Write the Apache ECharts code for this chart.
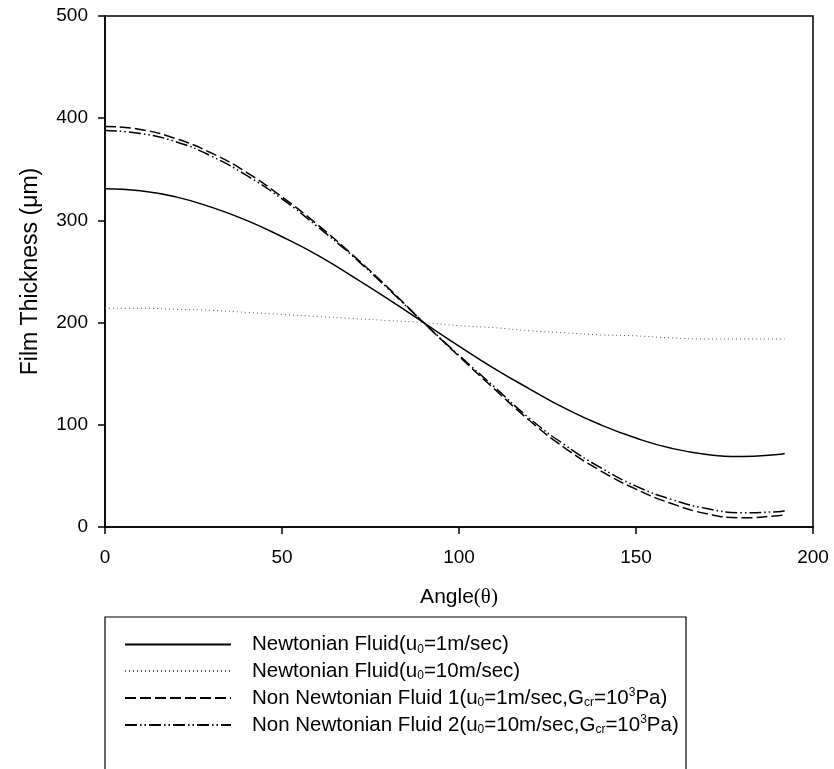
<!DOCTYPE html>
<html><head><meta charset="utf-8">
<script src="https://cdn.jsdelivr.net/npm/echarts@6/dist/echarts.min.js"></script>
<style>html,body{margin:0;padding:0;background:#fff}#c{width:834px;height:769px}</style>
</head><body><div id="c"></div>
<script>
const angles = [0,10,20,30,40,50,60,70,80,90,100,110,120,130,140,150,160,170,180,190,192];
const newton1 = [331,329,323,313,300,284,266,245,223,200,177,155,135,116,100,87,77,71,69,71,72];
const newton10 = [214,214,213,212,210,208,206,204,202,200,197,195,192,190,188,187,185,184,184,184,184];
const nonNewton1 = [392,389,380,366,347,323,296,266,234,200,167,135,104,77,55,37,23,13,9,11,12];
const nonNewton2 = [388,385,377,363,344,321,294,265,233,200,168,137,106,80,58,40,27,18,14,15,16];
const xTicks = [0,50,100,150,200];
const yTicks = [0,100,200,300,400,500];

const names = ['Newtonian Fluid(u0=1m/sec)','Newtonian Fluid(u0=10m/sec)','Non Newtonian Fluid 1(u0=1m/sec,Gcr=10^3Pa)','Non Newtonian Fluid 2(u0=10m/sec,Gcr=10^3Pa)'];
const richLabels = {};
richLabels[names[0]] = '{n|Newtonian Fluid(u}{s|0}{n|=1m/sec)}';
richLabels[names[1]] = '{n|Newtonian Fluid(u}{s|0}{n|=10m/sec)}';
richLabels[names[2]] = '{n|Non Newtonian Fluid 1(u}{s|0}{n|=1m/sec,G}{s|cr}{n|=10}{p|3}{n|Pa)}';
richLabels[names[3]] = '{n|Non Newtonian Fluid 2(u}{s|0}{n|=10m/sec,G}{s|cr}{n|=10}{p|3}{n|Pa)}';

function pairs(ys){ return angles.map((a,i)=>[a, ys[i]]); }
const font = 'Liberation Sans, Arial, sans-serif';

const chart = echarts.init(document.getElementById('c'), null, {renderer:'canvas'});
const styles = [
  {type:'solid', width:1.5, color:'#000'},
  {type:[1,3], width:1, color:'#555'},
  {type:[11,4], width:1.5, color:'#000'},
  {type:[12,3,1.5,3,1.5,3], width:1.5, color:'#000'}
];
const datas = [newton1, newton10, nonNewton1, nonNewton2];
chart.setOption({
  animation:false,
  grid:{left:105, right:21, top:16, bottom:242, show:true, borderColor:'#000', borderWidth:1.5, backgroundColor:'transparent'},
  xAxis:{type:'value', min:0, max:200, interval:50,
    name:'{a|Angle}{t|(θ)}', nameLocation:'middle', nameGap:60,
    nameTextStyle:{rich:{a:{fontFamily:font, fontSize:21, color:'#000'}, t:{fontFamily:'Liberation Serif, Times New Roman, serif', fontSize:21, color:'#000'}}},
    axisLine:{show:true, lineStyle:{color:'#000', width:1.5}},
    axisTick:{show:true, inside:false, length:7, lineStyle:{color:'#000', width:1.5}},
    axisLabel:{color:'#000', fontSize:19, fontFamily:font, margin:21},
    splitLine:{show:false}},
  yAxis:{type:'value', min:0, max:500, interval:100,
    name:'Film Thickness (μm)', nameLocation:'middle', nameGap:63,
    nameTextStyle:{fontFamily:font, fontSize:23, color:'#000'},
    axisLine:{show:true, lineStyle:{color:'#000', width:1.5}},
    axisTick:{show:true, inside:false, length:7, lineStyle:{color:'#000', width:1.5}},
    axisLabel:{color:'#000', fontSize:19, fontFamily:font, margin:17},
    splitLine:{show:false}},
  legend:{show:true, orient:'vertical', left:119, top:629, itemWidth:106, itemHeight:10, itemGap:5,
    data:names,
    itemStyle:{opacity:0, borderWidth:0},
    formatter:function(n){return richLabels[n];},
    textStyle:{padding:[0,0,0,16], rich:{
      n:{fontFamily:font, fontSize:20.5, color:'#000', lineHeight:22},
      s:{fontFamily:font, fontSize:12, color:'#000', lineHeight:12, verticalAlign:'bottom'},
      p:{fontFamily:font, fontSize:12, color:'#000', lineHeight:12, verticalAlign:'top'}
    }}},
  graphic:[{type:'rect', shape:{x:105, y:617, width:581, height:170}, style:{fill:'none', stroke:'#000', lineWidth:1.2}, silent:true, z:-1}],
  series: names.map((nm,i)=>({name:nm, type:'line', data:pairs(datas[i]), smooth:true, showSymbol:false, symbol:'none',
    lineStyle:styles[i], itemStyle:{color:styles[i].color}}))
});
</script></body></html>
